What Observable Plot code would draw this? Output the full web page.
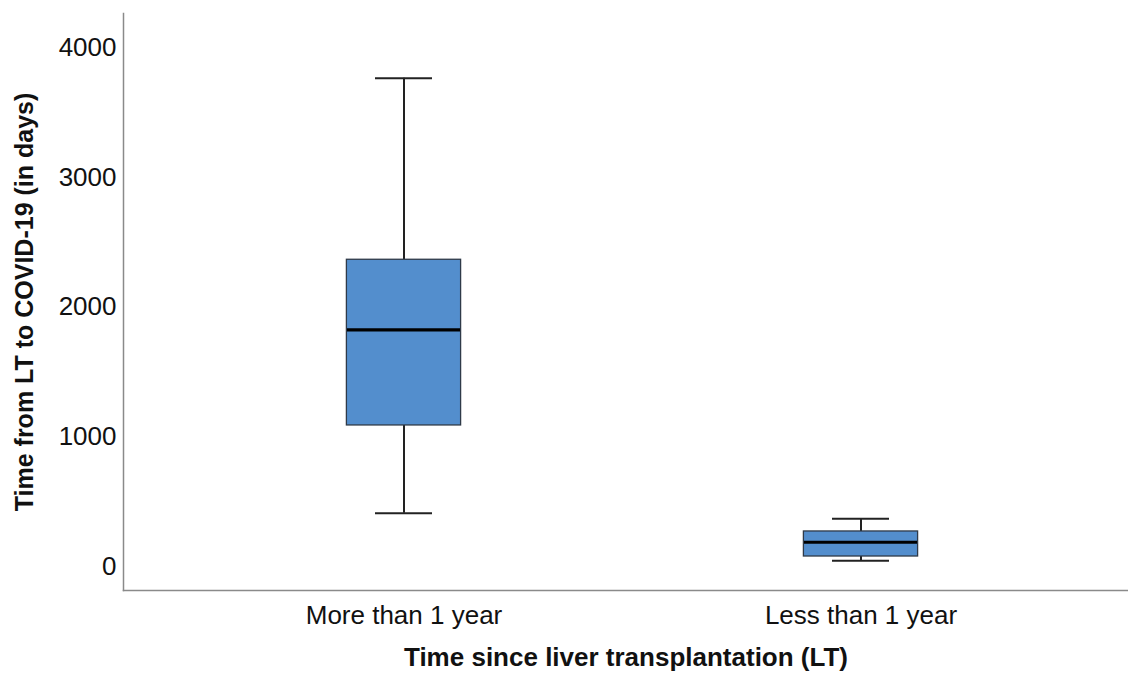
<!DOCTYPE html>
<html><head><meta charset="utf-8">
<script src="https://cdn.jsdelivr.net/npm/d3@7"></script>
<script src="https://cdn.jsdelivr.net/npm/@observablehq/plot@0.6"></script>
<style>
body{margin:0;background:#fff}
g[aria-label="y-axis label"] text{font-weight:bold;font-size:25px}
g[aria-label="x-axis label"] text{font-weight:bold;font-size:26px}
</style>
</head><body><div id="chart"></div><script>
const groups = ["More than 1 year", "Less than 1 year"];
const lowerWhisker = [411, 44];
const q1 = [1087, 77];
const median = [1824, 187];
const q3 = [2364, 270];
const upperWhisker = [3763, 368];
const yTicks = [0, 1000, 2000, 3000, 4000];

const data = groups.map((g, i) => ({group: g, lo: lowerWhisker[i], q1: q1[i], med: median[i], q3: q3[i], hi: upperWhisker[i]}));

const chart = Plot.plot({
  width: 1128, height: 673,
  marginLeft: 123, marginRight: 0, marginTop: 13, marginBottom: 83,
  style: {fontFamily: "'Liberation Sans', Arial, sans-serif", background: "#fff", color: "#111"},
  x: {domain: groups, range: [174.25, 1088.85], padding: 0, label: null, axis: null},
  y: {domain: [-185, 4262], axis: null},
  marks: [
    Plot.frame({anchor: "left", stroke: "#8a8a8a", strokeWidth: 1.5}),
    Plot.frame({anchor: "bottom", stroke: "#8a8a8a", strokeWidth: 1.5}),
    Plot.ruleX(data, {x: "group", y1: "q3", y2: "hi", stroke: "#222", strokeWidth: 2}),
    Plot.ruleX(data, {x: "group", y1: "lo", y2: "q1", stroke: "#222", strokeWidth: 2}),
    Plot.tickY(data, {x: "group", y: "hi", insetLeft: 200, insetRight: 200, stroke: "#222", strokeWidth: 2}),
    Plot.tickY(data, {x: "group", y: "lo", insetLeft: 200, insetRight: 200, stroke: "#222", strokeWidth: 2}),
    Plot.barY(data, {x: "group", y1: "q1", y2: "q3", fill: "#538ecd", stroke: "#2f3a48", strokeWidth: 1.3, insetLeft: 171.4, insetRight: 171.4}),
    Plot.tickY(data, {x: "group", y: "med", stroke: "#000", strokeWidth: 3.2, insetLeft: 172, insetRight: 172}),
    Plot.axisY({ticks: yTicks, tickSize: 0, tickPadding: 7, fontSize: 26, tickFormat: d3.format("d"),
      label: "Time from LT to COVID-19 (in days)", labelAnchor: "center", labelOffset: 108, labelArrow: "none"}),
    Plot.axisX({tickSize: 0, tickPadding: 15, fontSize: 26,
      label: "Time since liver transplantation (LT)", labelAnchor: "center", labelOffset: 75, labelArrow: "none"})
  ]
});
document.getElementById("chart").append(chart);
</script></body></html>
